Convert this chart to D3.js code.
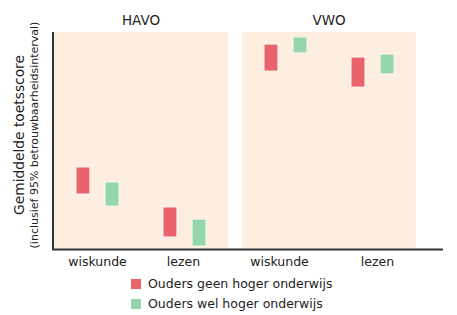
<!DOCTYPE html>
<html>
<head>
<meta charset="utf-8">
<script src="https://cdn.jsdelivr.net/npm/d3@7"></script>
<style>
  body { margin: 0; background: #fff; }
  text { font-family: "DejaVu Sans", sans-serif; fill: #222; }
</style>
</head>
<body>
<svg id="chart" width="457" height="315"></svg>
<script>
// data (arbitrary score units 0-100)
var panels = ["HAVO", "VWO"];
var categories = ["wiskunde", "lezen"];
var groups = ["Ouders geen hoger onderwijs", "Ouders wel hoger onderwijs"];
var colors = ["#e8636b", "#93d6ae"];

// lower / upper bound of the 95% interval, order: HAVO wiskunde, HAVO lezen, VWO wiskunde, VWO lezen
var geenLow  = [25.0,  5.1, 81.9, 74.5];
var geenHigh = [37.5, 19.0, 94.4, 88.4];
var welLow   = [19.4,  0.9, 90.3, 80.6];
var welHigh  = [30.6, 13.4, 97.7, 89.8];

var rows = [];
var k = 0;
for (var p of panels) {
  for (var c of categories) {
    rows.push({panel: p, cat: c, group: groups[0], lo: geenLow[k], hi: geenHigh[k]});
    rows.push({panel: p, cat: c, group: groups[1], lo: welLow[k], hi: welHigh[k]});
    k++;
  }
}

var svg = d3.select("svg#chart");

var plotLeft = 54, plotRight = 416, plotTop = 32, plotBottom = 248;

var xPanel = d3.scaleBand().domain(panels).range([plotLeft, plotRight]).paddingInner(14 / 188);
var xCat = d3.scalePoint().domain(categories).range([0, xPanel.bandwidth()]).padding(0.5);
var xGroup = d3.scaleBand().domain(groups).range([-21.5, 21.5]).paddingInner(0.52);
var y = d3.scaleLinear().domain([0, 100]).range([plotBottom, plotTop]);
var color = d3.scaleOrdinal().domain(groups).range(colors);

// panel backgrounds
svg.selectAll("rect.panel")
  .data(panels)
  .enter().append("rect")
  .attr("class", "panel")
  .attr("x", d => xPanel(d))
  .attr("y", plotTop)
  .attr("width", xPanel.bandwidth())
  .attr("height", plotBottom - plotTop)
  .attr("fill", "#fdeee0");

// panel titles
svg.selectAll("text.panelTitle")
  .data(panels)
  .enter().append("text")
  .attr("class", "panelTitle")
  .attr("x", d => xPanel(d) + xPanel.bandwidth() / 2)
  .attr("y", 21)
  .attr("text-anchor", "middle")
  .attr("dominant-baseline", "middle")
  .attr("font-size", 13.5)
  .text(d => d);

// interval bars
svg.selectAll("rect.bar")
  .data(rows)
  .enter().append("rect")
  .attr("class", "bar")
  .attr("x", d => xPanel(d.panel) + xCat(d.cat) + xGroup(d.group))
  .attr("y", d => y(d.hi))
  .attr("width", xGroup.bandwidth())
  .attr("height", d => y(d.lo) - y(d.hi))
  .attr("fill", d => color(d.group))
  .attr("stroke", "#fff6ee")
  .attr("stroke-width", 1);

// category labels (the VWO ones sit a little off-centre in the original)
var catLabels = [];
for (var p of panels) for (var c of categories) catLabels.push({panel: p, cat: c});
var labelNudge = [0, -1, -6, 5];
svg.selectAll("text.catLabel")
  .data(catLabels)
  .enter().append("text")
  .attr("class", "catLabel")
  .attr("x", (d, i) => xPanel(d.panel) + xCat(d.cat) + labelNudge[i])
  .attr("y", 262)
  .attr("text-anchor", "middle")
  .attr("dominant-baseline", "middle")
  .attr("font-size", 12.5)
  .text(d => d.cat);

// axis lines
svg.append("line")
  .attr("x1", plotLeft - 1).attr("x2", plotLeft - 1)
  .attr("y1", plotTop).attr("y2", plotBottom + 2)
  .attr("stroke", "#333").attr("stroke-width", 2);
svg.append("line")
  .attr("x1", plotLeft - 2).attr("x2", 443)
  .attr("y1", plotBottom + 1.5).attr("y2", plotBottom + 1.5)
  .attr("stroke", "#333").attr("stroke-width", 2);

// y title
svg.append("text")
  .attr("transform", "translate(20,135) rotate(-90)")
  .attr("text-anchor", "middle")
  .attr("dominant-baseline", "middle")
  .attr("font-size", 13.8)
  .text("Gemiddelde toetsscore");
svg.append("text")
  .attr("transform", "translate(35,135) rotate(-90)")
  .attr("text-anchor", "middle")
  .attr("dominant-baseline", "middle")
  .attr("font-size", 11)
  .text("(inclusief 95% betrouwbaarheidsinterval)");

// legend
var legend = svg.selectAll("g.legend")
  .data(groups)
  .enter().append("g")
  .attr("class", "legend")
  .attr("transform", (d, i) => "translate(131," + (279 + i * 20) + ")");
legend.append("rect")
  .attr("width", 10).attr("height", 10)
  .attr("fill", d => color(d));
legend.append("text")
  .attr("x", 17).attr("y", 5)
  .attr("dominant-baseline", "middle")
  .attr("font-size", 12.5)
  .text(d => d);
</script>
</body>
</html>
